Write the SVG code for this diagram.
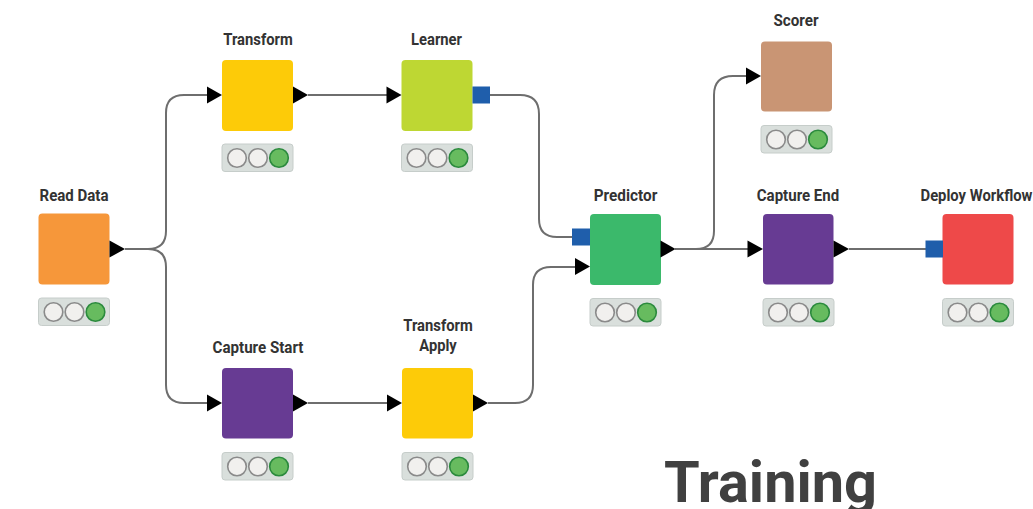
<svg xmlns="http://www.w3.org/2000/svg" xmlns:xlink="http://www.w3.org/1999/xlink" width="1033" height="509" viewBox="0 0 1033 509">
  <style>
    .conn { fill: none; stroke: #6e6e6e; stroke-width: 2; }
    .box { rx: 4; ry: 4; }
    .port-in, .port-out { fill: #000; }
    .port-model { fill: #1f5eab; }
    .label { font-family: Roboto, "Liberation Sans", sans-serif; font-weight: bold; font-size: 17px; fill: #333; text-anchor: middle; }
    .title { font-family: Roboto, "Liberation Sans", sans-serif; font-weight: bold; font-size: 57px; fill: #404040; }
    .lamp { fill: #f1f0ee; stroke: #8a8a8a; stroke-width: 1.6; }
    .lamp-on { fill: #67bb5f; stroke: #2b8a3d; stroke-width: 1.6; }
    .tray { fill: #d9dfdc; stroke: #c6cdca; stroke-width: 1; }
  </style>
  <defs>
    <!-- traffic-light status tray, 71 wide -->
    <g id="status">
      <rect class="tray" x="0" y="0" width="71" height="27.5" rx="3"/>
      <circle class="lamp" cx="15" cy="14" r="9.3"/>
      <circle class="lamp" cx="36" cy="14" r="9.3"/>
      <circle class="lamp-on" cx="57" cy="14" r="9.3"/>
    </g>
  </defs>

  <rect width="1033" height="509" fill="#fff"/>

  <!-- connectors -->
  <g id="connectors">
    <path class="conn" d="M125,249 H148 Q166,249 166,231 V113 Q166,95 184,95 H207"/>
    <path class="conn" d="M125,249 H148 Q166,249 166,267 V385 Q166,403 184,403 H207"/>
    <path class="conn" d="M308,95 H387"/>
    <path class="conn" d="M308,403 H388"/>
    <path class="conn" d="M490,95 H520 Q539,95 539,114 V219 Q539,237 557,237 H572"/>
    <path class="conn" d="M488,403 H515 Q533,403 533,385 V285 Q533,267 551,267 H575"/>
    <path class="conn" d="M675,249 H696 Q714,249 714,231 V95 Q714,76 733,76 H746"/>
    <path class="conn" d="M675,249 H748"/>
    <path class="conn" d="M849,249 H926"/>
  </g>

  <!-- Read Data -->
  <g id="read-data">
    <text class="label" x="74" y="200.5" textLength="69" lengthAdjust="spacingAndGlyphs">Read Data</text>
    <rect class="box" x="38.5" y="213.5" width="71" height="71" fill="#f6973a"/>
    <polygon class="port-out" points="109.5,240.5 125,249 109.5,257.5"/>
    <use xlink:href="#status" x="38.5" y="298"/>
  </g>

  <!-- Transform -->
  <g id="transform">
    <text class="label" x="258" y="45" textLength="69.5" lengthAdjust="spacingAndGlyphs">Transform</text>
    <rect class="box" x="222" y="60" width="71" height="71" fill="#fdcb08"/>
    <polygon class="port-in" points="207,86.5 222,95 207,103.5"/>
    <polygon class="port-out" points="293,86.5 308,95 293,103.5"/>
    <use xlink:href="#status" x="222" y="144"/>
  </g>

  <!-- Learner -->
  <g id="learner">
    <text class="label" x="436.5" y="45" textLength="51" lengthAdjust="spacingAndGlyphs">Learner</text>
    <rect class="box" x="401.5" y="60" width="71" height="71" fill="#bed733"/>
    <polygon class="port-in" points="386.5,86.5 401.5,95 386.5,103.5"/>
    <rect class="port-model" x="472.5" y="86.5" width="17.5" height="17"/>
    <use xlink:href="#status" x="401.5" y="144"/>
  </g>

  <!-- Predictor -->
  <g id="predictor">
    <text class="label" x="625.5" y="200.5" textLength="63.5" lengthAdjust="spacingAndGlyphs">Predictor</text>
    <rect class="box" x="590" y="214" width="71" height="71" fill="#3bb96b"/>
    <rect class="port-model" x="572" y="228.5" width="18" height="17"/>
    <polygon class="port-in" points="575,258 590,266.5 575,275"/>
    <polygon class="port-out" points="660.5,240.5 675.5,249 660.5,257.5"/>
    <use xlink:href="#status" x="590" y="298.5"/>
  </g>

  <!-- Scorer -->
  <g id="scorer">
    <text class="label" x="796" y="26" textLength="45" lengthAdjust="spacingAndGlyphs">Scorer</text>
    <rect class="box" x="761" y="41.5" width="71" height="70" fill="#c99574"/>
    <polygon class="port-in" points="746,67.5 761,76 746,84.5"/>
    <use xlink:href="#status" x="761" y="125.5"/>
  </g>

  <!-- Capture End -->
  <g id="capture-end">
    <text class="label" x="798" y="200.5" textLength="82.5" lengthAdjust="spacingAndGlyphs">Capture End</text>
    <rect class="box" x="763" y="214" width="70.5" height="70.5" fill="#673b93"/>
    <polygon class="port-in" points="747.5,240.5 763,249 747.5,257.5"/>
    <polygon class="port-out" points="833.5,240.5 849,249 833.5,257.5"/>
    <use xlink:href="#status" x="763" y="298.5"/>
  </g>

  <!-- Deploy Workflow -->
  <g id="deploy-workflow">
    <text class="label" x="976.5" y="200.5" textLength="112" lengthAdjust="spacingAndGlyphs">Deploy Workflow</text>
    <rect class="box" x="942.5" y="214" width="71" height="70.5" fill="#ee4949"/>
    <rect class="port-model" x="925.5" y="240.5" width="17.5" height="17"/>
    <use xlink:href="#status" x="942.5" y="298.5"/>
  </g>

  <!-- Capture Start -->
  <g id="capture-start">
    <text class="label" x="258" y="352.5" textLength="91" lengthAdjust="spacingAndGlyphs">Capture Start</text>
    <rect class="box" x="222" y="368" width="71" height="70.5" fill="#673b93"/>
    <polygon class="port-in" points="207,394.5 222,403 207,411.5"/>
    <polygon class="port-out" points="293,394.5 308,403 293,411.5"/>
    <use xlink:href="#status" x="222" y="452.5"/>
  </g>

  <!-- Transform Apply -->
  <g id="transform-apply">
    <text class="label" x="438" y="330.5" textLength="69.5" lengthAdjust="spacingAndGlyphs">Transform</text>
    <text class="label" x="438" y="350.5" textLength="37.5" lengthAdjust="spacingAndGlyphs">Apply</text>
    <rect class="box" x="402" y="368" width="71" height="70.5" fill="#fdcb08"/>
    <polygon class="port-in" points="387,394.5 402,403 387,411.5"/>
    <polygon class="port-out" points="473,394.5 488,403 473,411.5"/>
    <use xlink:href="#status" x="402" y="452.5"/>
  </g>

  <text class="title" x="664" y="501.5" textLength="213" lengthAdjust="spacingAndGlyphs">Training</text>
</svg>
